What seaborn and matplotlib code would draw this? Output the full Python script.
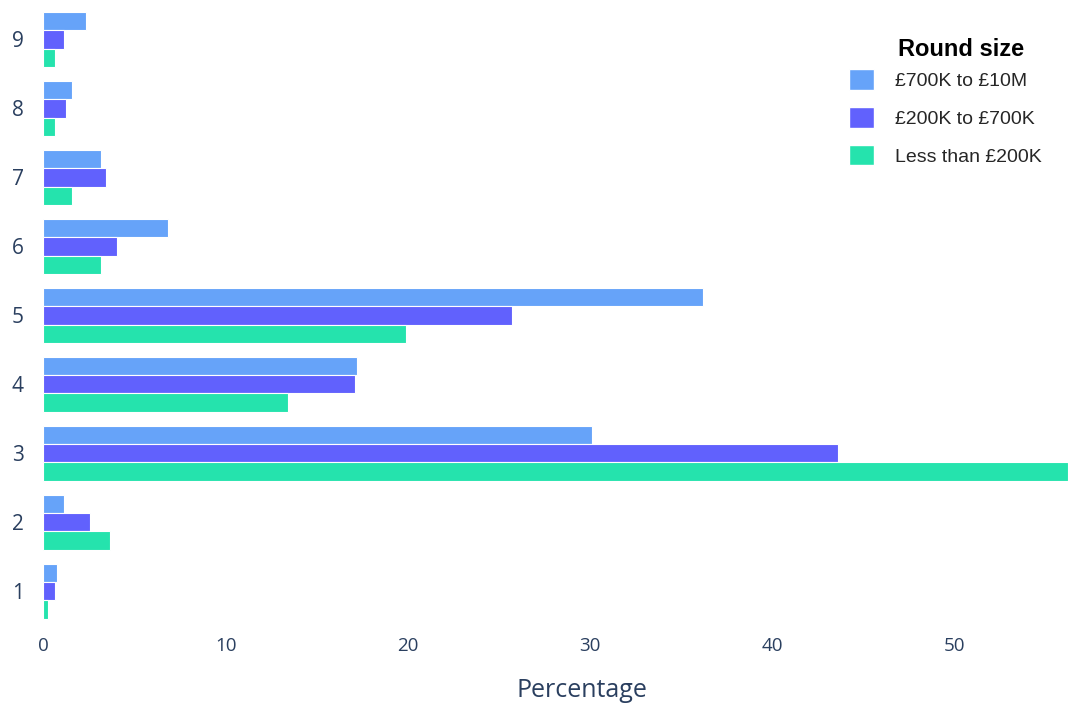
import matplotlib.pyplot as plt
import seaborn as sns
import pandas as pd
from matplotlib.patches import Patch

# Data
categories = ['9', '8', '7', '6', '5', '4', '3', '2', '1']
series_names = ['£700K to £10M', '£200K to £700K', 'Less than £200K']
big_round = [2.36, 1.59, 3.18, 6.86, 36.2, 17.2, 30.1, 1.15, 0.77]
mid_round = [1.15, 1.26, 3.46, 4.06, 25.7, 17.1, 43.6, 2.58, 0.66]
small_round = [0.66, 0.66, 1.59, 3.18, 19.87, 13.4, 56.2, 3.68, 0.27]
colors = ['#66a3f9', '#6161fd', '#25e3ad']

rows = []
for name, vals in zip(series_names, [big_round, mid_round, small_round]):
    for cat, v in zip(categories, vals):
        rows.append({'category': cat, 'Round size': name, 'Percentage': v})
df = pd.DataFrame(rows)

sns.set_style('white')
fig, ax = plt.subplots(figsize=(10.86, 7.15), dpi=100)

sns.barplot(data=df, y='category', x='Percentage', hue='Round size',
            order=categories, hue_order=series_names, palette=colors,
            orient='h', width=0.8, edgecolor='white', linewidth=0.8,
            saturation=1, legend=False, ax=ax)

ax.set_xlim(0, max(small_round))
ax.set_ylim(8.5, -0.5)
ax.set_xticks([0, 10, 20, 30, 40, 50])
for s in ax.spines.values():
    s.set_visible(False)

tick_color = '#2a3f5f'
ax.tick_params(axis='x', labelsize=13.5, colors=tick_color, length=0, pad=8)
ax.tick_params(axis='y', labelsize=15, colors=tick_color, length=0, pad=14)
for lab in ax.get_xticklabels() + ax.get_yticklabels():
    lab.set_fontfamily('Open Sans')
ax.set_ylabel('')
ax.set_xlabel('Percentage', fontsize=18, color=tick_color, family='Open Sans')
ax.xaxis.set_label_coords(0.526, -0.085)

handles = [Patch(facecolor=c, edgecolor='white') for c in colors]
ax.legend(handles, series_names, loc='upper left', bbox_to_anchor=(0.77, 0.925),
          frameon=False, prop={'family': 'Liberation Sans', 'size': 14},
          handlelength=1.25, handleheight=1.25, labelspacing=0.88, handletextpad=1.1)
fig.text(0.827, 0.922, 'Round size', fontsize=17, fontweight='bold',
         family='Liberation Sans', color='black')

plt.subplots_adjust(left=0.04, right=0.983, top=0.993, bottom=0.125)
plt.savefig('out.png', dpi=100)
